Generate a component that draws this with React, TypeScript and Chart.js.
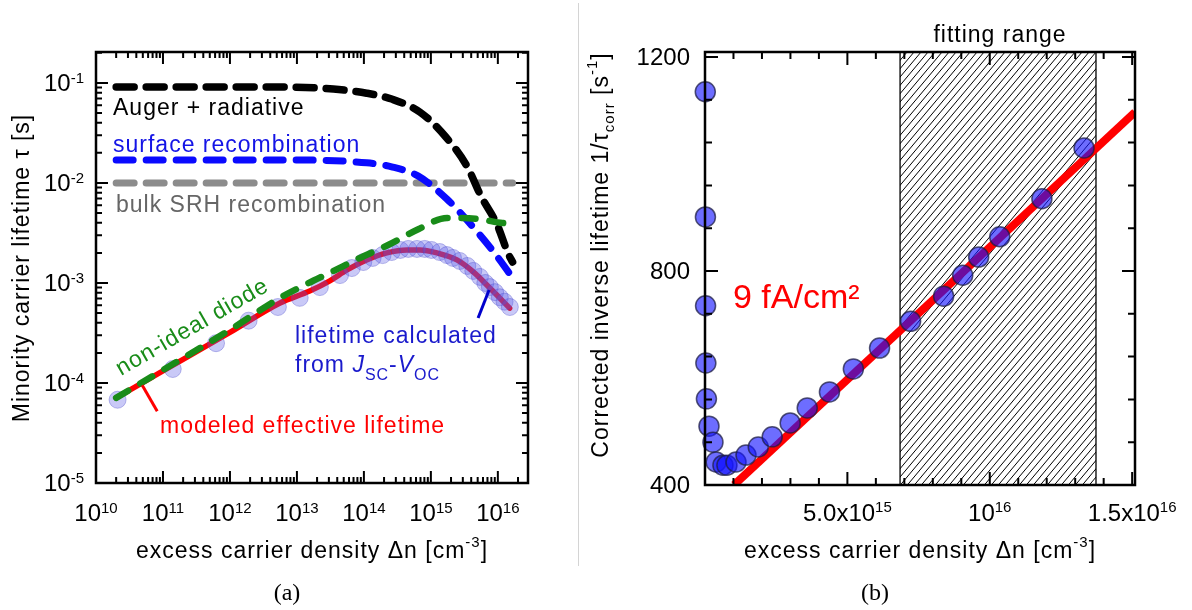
import React, { useEffect, useRef } from "react";
import { Chart, registerables } from "chart.js";

Chart.register(...registerables);

const FONT = "'Liberation Sans', Arial, Helvetica, sans-serif";
const SERIF = "'Liberation Serif', 'Times New Roman', serif";

// ---------- Panel (a): lifetime vs excess carrier density (log-log) ----------
const augerX = [2.0e10, 5.6e12, 3.5e13, 1.1e14, 2.6e14, 6.9e14, 1.66e15, 3.5e15, 5.6e15, 9.8e15, 1.41e16, 1.66e16];
const augerY = [0.091, 0.091, 0.087, 0.079, 0.069, 0.051, 0.029, 0.0145, 0.0074, 0.0038, 0.002, 0.00162];

const surfX = [2.0e10, 5.6e12, 1.1e14, 2.6e14, 6.5e14, 1.74e15, 4.3e15, 8.7e15, 1.51e16];
const surfY = [0.017, 0.017, 0.0159, 0.0145, 0.0117, 0.0069, 0.0036, 0.00204, 0.00123];

const srhX = [2.0e10, 1.66e16];
const srhY = [0.01, 0.01];

const diodeX = [2.0e10, 1e11, 1e12, 5.6e12, 1.41e13, 3.3e13, 8.1e13, 2.3e14, 6.6e14, 1.74e15, 4.9e15, 1.17e16, 1.66e16];
const diodeY = [7.1e-5, 1.35e-4, 3.4e-4, 7.1e-4, 9.8e-4, 1.29e-3, 1.74e-3, 2.4e-3, 3.47e-3, 4.47e-3, 4.37e-3, 3.98e-3, 3.9e-3];

const modelX = [2.0e10, 1e11, 1e12, 5.6e12, 1.55e13, 3.1e13, 5.6e13, 1.1e14, 2.2e14, 4.4e14, 6.9e14, 1.23e15, 2.45e15, 4.3e15, 7.6e15, 1.5e16];
const modelY = [7.1e-5, 1.32e-4, 3.2e-4, 6.3e-4, 8.3e-4, 1.05e-3, 1.35e-3, 1.7e-3, 2.0e-3, 2.14e-3, 2.14e-3, 2.0e-3, 1.7e-3, 1.29e-3, 8.9e-4, 5.6e-4];

const measX = [2.1e10, 1.4e11, 6.2e11, 1.9e12, 5.2e12, 1.1e13, 2.2e13, 4.4e13, 6.6e13, 9.8e13, 1.35e14, 1.9e14, 2.6e14, 3.5e14, 4.6e14, 6.2e14, 8.1e14, 1.02e15, 1.35e15, 1.74e15, 2.14e15, 2.7e15, 3.5e15, 4.3e15, 5.4e15, 6.5e15, 7.6e15, 9.1e15, 1.07e16, 1.26e16, 1.51e16];
const measY = [6.8e-5, 1.38e-4, 2.5e-4, 4.2e-4, 5.75e-4, 7.1e-4, 9.1e-4, 1.2e-3, 1.41e-3, 1.62e-3, 1.78e-3, 1.9e-3, 2.04e-3, 2.14e-3, 2.19e-3, 2.19e-3, 2.19e-3, 2.14e-3, 2.04e-3, 1.9e-3, 1.78e-3, 1.66e-3, 1.48e-3, 1.32e-3, 1.15e-3, 1.0e-3, 9.1e-4, 8.1e-4, 7.2e-4, 6.5e-4, 5.75e-4];

const leftXExps = [10, 11, 12, 13, 14, 15, 16];
const leftYExps = [-5, -4, -3, -2, -1];
const logMults = [1, 2, 3, 4, 5, 6, 7, 8, 9];

// ---------- Panel (b): corrected inverse lifetime vs excess carrier density ----------
const corrX = [0.01e15, 0.015e15, 0.02e15, 0.03e15, 0.05e15, 0.14e15, 0.28e15, 0.39e15, 0.63e15, 0.77e15, 1.09e15, 1.44e15, 1.87e15, 2.36e15, 2.99e15, 3.59e15, 4.37e15, 5.21e15, 6.13e15, 7.22e15, 8.38e15, 9.05e15, 9.61e15, 10.35e15, 11.83e15, 13.31e15];
const corrY = [1135, 901, 735, 628, 561, 510, 480, 443, 437, 437, 443, 456, 471, 490, 516, 544, 574, 617, 656, 706, 753, 792, 826, 864, 935, 1030];

const fitX = [1.02e15, 1.51e16];
const fitY = [400, 1097];
const fitRange = [6.85e15, 1.373e16];

const rightYTicks = [400, 800, 1200];
const rightYMinor = [480, 560, 640, 720, 880, 960, 1040, 1120];
const rightXTicks = [5e15, 1e16, 1.5e16];
const rightXTickLabels = [["5.0x10", "15"], ["10", "16"], ["1.5x10", "16"]];
const rightXMinor = [1e15, 2e15, 3e15, 4e15, 6e15, 7e15, 8e15, 9e15, 1.1e16, 1.2e16, 1.3e16, 1.4e16];

type Seg = { t: string; size: number; dy?: number; italic?: boolean; family?: string };

function drawRich(
  ctx: CanvasRenderingContext2D,
  segs: Seg[],
  x: number,
  y: number,
  align: "left" | "center" | "right",
  color: string,
  angle = 0,
  ls = 0
) {
  ctx.save();
  ctx.translate(x, y);
  if (angle) ctx.rotate(angle);
  (ctx as any).letterSpacing = ls + "px";
  ctx.textAlign = "left";
  ctx.textBaseline = "alphabetic";
  ctx.fillStyle = color;
  const fontOf = (s: Seg) => `${s.italic ? "italic " : ""}${s.size}px ${s.family || FONT}`;
  const widths = segs.map((s) => {
    ctx.font = fontOf(s);
    return ctx.measureText(s.t).width;
  });
  const total = widths.reduce((p, c) => p + c, 0);
  let cx = align === "left" ? 0 : align === "center" ? -total / 2 : -total;
  segs.forEach((s, i) => {
    ctx.font = fontOf(s);
    ctx.fillText(s.t, cx, s.dy || 0);
    cx += widths[i];
  });
  ctx.restore();
}

const pts = (xs: number[], ys: number[]) => xs.map((x, i) => ({ x, y: ys[i] }));

const leftDeco = {
  id: "leftDeco",
  afterDraw(chart: any) {
    const { ctx, chartArea: a, scales } = chart;
    const xs = scales.x;
    const ys = scales.y;
    ctx.save();
    ctx.strokeStyle = "#000";
    ctx.lineWidth = 2;
    ctx.beginPath();
    for (const e of leftXExps)
      for (const m of logMults) {
        const v = m * Math.pow(10, e);
        if (v > xs.max * 1.0001) continue;
        const p = xs.getPixelForValue(v);
        const L = m === 1 ? 12 : 6;
        ctx.moveTo(p, a.bottom);
        ctx.lineTo(p, a.bottom - L);
        ctx.moveTo(p, a.top);
        ctx.lineTo(p, a.top + L);
      }
    for (const e of leftYExps)
      for (const m of logMults) {
        const v = m * Math.pow(10, e);
        if (v > ys.max * 1.0001) continue;
        const p = ys.getPixelForValue(v);
        const L = m === 1 ? 12 : 6;
        ctx.moveTo(a.left, p);
        ctx.lineTo(a.left + L, p);
        ctx.moveTo(a.right, p);
        ctx.lineTo(a.right - L, p);
      }
    ctx.stroke();
    ctx.lineWidth = 2.5;
    ctx.strokeRect(a.left, a.top, a.right - a.left, a.bottom - a.top);

    // tick labels
    for (const e of leftXExps) {
      const p = xs.getPixelForValue(Math.pow(10, e));
      drawRich(ctx, [{ t: "10", size: 24 }, { t: String(e), size: 15, dy: -8 }], p, a.bottom + 38, "center", "#000");
    }
    for (const e of leftYExps) {
      const p = ys.getPixelForValue(Math.pow(10, e));
      drawRich(ctx, [{ t: "10", size: 24 }, { t: String(e), size: 15, dy: -8 }], a.left - 12, p + 8, "right", "#000");
    }

    // axis titles
    drawRich(ctx, [{ t: "Minority carrier lifetime τ [s]", size: 23 }], 29, 268, "center", "#000", -Math.PI / 2, 1);
    drawRich(
      ctx,
      [{ t: "excess carrier density Δn [cm", size: 23 }, { t: "-3", size: 15, dy: -11 }, { t: "]", size: 23 }],
      312,
      558,
      "center",
      "#000",
      0,
      1
    );

    // annotations
    drawRich(ctx, [{ t: "Auger + radiative", size: 23 }], 113, 115, "left", "#000", 0, 1);
    drawRich(ctx, [{ t: "surface recombination", size: 23 }], 113, 152, "left", "#1414e6", 0, 1);
    drawRich(ctx, [{ t: "bulk SRH recombination", size: 23 }], 116, 212, "left", "#666666", 0, 1);
    drawRich(ctx, [{ t: "non-ideal diode", size: 23 }], 121, 376, "left", "#198c19", -Math.PI / 6, 1);
    drawRich(ctx, [{ t: "modeled effective lifetime", size: 23 }], 160, 433, "left", "#ff0000", 0, 1);
    drawRich(ctx, [{ t: "lifetime calculated", size: 23 }], 295, 343, "left", "#1a1acc", 0, 1);
    drawRich(
      ctx,
      [
        { t: "from ", size: 23 },
        { t: "J", size: 23, italic: true },
        { t: "SC", size: 16, dy: 8 },
        { t: "-", size: 23 },
        { t: "V", size: 23, italic: true },
        { t: "OC", size: 16, dy: 8 },
      ],
      295,
      372,
      "left",
      "#1a1acc",
      0,
      1
    );

    // leader lines
    ctx.lineWidth = 3;
    ctx.strokeStyle = "#ff0000";
    const rx = xs.getPixelForValue(4.9e10);
    const ry = ys.getPixelForValue(9.5e-5);
    ctx.beginPath();
    ctx.moveTo(rx, ry);
    ctx.lineTo(rx + 15, ry + 26);
    ctx.stroke();
    ctx.strokeStyle = "#0000cc";
    const bx = xs.getPixelForValue(7.4e15);
    const by = ys.getPixelForValue(8.5e-4);
    ctx.beginPath();
    ctx.moveTo(bx, by);
    ctx.lineTo(bx - 11, by + 28);
    ctx.stroke();

    // panel label
    drawRich(ctx, [{ t: "(a)", size: 24, family: SERIF }], 287, 600, "center", "#000");
    ctx.restore();
  },
};

const rightHatch = {
  id: "rightHatch",
  beforeDatasetsDraw(chart: any) {
    const { ctx, chartArea: a, scales } = chart;
    const x1 = scales.x.getPixelForValue(fitRange[0]);
    const x2 = scales.x.getPixelForValue(fitRange[1]);
    const h = a.bottom - a.top;
    ctx.save();
    ctx.beginPath();
    ctx.rect(x1, a.top, x2 - x1, h);
    ctx.clip();
    ctx.strokeStyle = "#000";
    ctx.lineWidth = 1;
    const slant = h * 0.84;
    ctx.beginPath();
    for (let sx = x1 - slant; sx < x2 + 2; sx += 7) {
      ctx.moveTo(sx, a.bottom);
      ctx.lineTo(sx + slant, a.top);
    }
    ctx.stroke();
    ctx.restore();
    ctx.save();
    ctx.strokeStyle = "#000";
    ctx.lineWidth = 1.3;
    ctx.strokeRect(x1, a.top, x2 - x1, h);
    ctx.restore();
  },
  afterDraw(chart: any) {
    const { ctx, chartArea: a, scales } = chart;
    const xs = scales.x;
    const ys = scales.y;
    ctx.save();
    ctx.strokeStyle = "#000";
    ctx.lineWidth = 2;
    ctx.beginPath();
    const vTick = (p: number, L: number) => {
      ctx.moveTo(p, a.bottom);
      ctx.lineTo(p, a.bottom - L);
      ctx.moveTo(p, a.top);
      ctx.lineTo(p, a.top + L);
    };
    const hTick = (p: number, L: number) => {
      ctx.moveTo(a.left, p);
      ctx.lineTo(a.left + L, p);
      ctx.moveTo(a.right, p);
      ctx.lineTo(a.right - L, p);
    };
    rightXTicks.forEach((v) => vTick(xs.getPixelForValue(v), 13));
    rightXMinor.forEach((v) => vTick(xs.getPixelForValue(v), 7));
    rightYTicks.forEach((v) => hTick(ys.getPixelForValue(v), 13));
    rightYMinor.forEach((v) => hTick(ys.getPixelForValue(v), 7));
    ctx.stroke();
    ctx.lineWidth = 2.5;
    ctx.strokeRect(a.left, a.top, a.right - a.left, a.bottom - a.top);

    rightYTicks.forEach((v) => {
      const p = ys.getPixelForValue(v);
      drawRich(ctx, [{ t: String(v), size: 24 }], a.left - 15, p + 8, "right", "#000");
    });
    rightXTicks.forEach((v, i) => {
      const p = xs.getPixelForValue(v);
      const [b, s] = rightXTickLabels[i];
      drawRich(ctx, [{ t: b, size: 24 }, { t: s, size: 15, dy: -9 }], p, a.bottom + 36, "center", "#000");
    });

    drawRich(
      ctx,
      [
        { t: "Corrected inverse lifetime 1/τ", size: 23 },
        { t: "corr", size: 15, dy: 6 },
        { t: " [s", size: 23 },
        { t: "-1", size: 15, dy: -11 },
        { t: "]", size: 23 },
      ],
      28,
      255,
      "center",
      "#000",
      -Math.PI / 2,
      1
    );
    drawRich(
      ctx,
      [{ t: "excess carrier density Δn [cm", size: 23 }, { t: "-3", size: 15, dy: -11 }, { t: "]", size: 23 }],
      340,
      558,
      "center",
      "#000",
      0,
      1
    );
    drawRich(ctx, [{ t: "fitting range", size: 23 }], 420, 42, "center", "#000", 0, 1);
    drawRich(ctx, [{ t: "9 fA/cm²", size: 34 }], 153, 308, "left", "#ff0000");
    drawRich(ctx, [{ t: "(b)", size: 24, family: SERIF }], 295, 600, "center", "#000");
    ctx.restore();
  },
};

export default function App() {
  const refA = useRef<HTMLCanvasElement>(null);
  const refB = useRef<HTMLCanvasElement>(null);

  useEffect(() => {
    const dash = (color: string, width: number, data: any, d: number[]) => ({
      data,
      borderColor: color,
      borderWidth: width,
      borderDash: d,
      borderCapStyle: "round" as const,
      pointRadius: 0,
      tension: 0.4,
      cubicInterpolationMode: "monotone" as const,
      fill: false,
    });
    const chartA = new Chart(refA.current!, {
      type: "line",
      data: {
        datasets: [
          dash("#198c19", 6.5, pts(diodeX, diodeY), [14, 14]),
          dash("#000000", 7.5, pts(augerX, augerY), [18, 12]),
          dash("#0a0aff", 7, pts(surfX, surfY), [17, 13]),
          {
            data: pts(measX, measY),
            showLine: false,
            pointRadius: 8.5,
            pointBackgroundColor: "rgba(90,90,230,0.33)",
            pointBorderColor: "rgba(70,70,200,0.35)",
            pointBorderWidth: 1,
            clip: false,
          },
          {
            data: pts(modelX, modelY),
            borderColor: "#ff0000",
            borderWidth: 5.5,
            pointRadius: 0,
            tension: 0.4,
            cubicInterpolationMode: "monotone",
            borderCapStyle: "round",
            fill: false,
          },
          dash("#8c8c8c", 7, pts(srhX, srhY), [18, 12]),
        ] as any,
      },
      options: {
        responsive: false,
        maintainAspectRatio: false,
        animation: false,
        layout: { padding: { left: 96, top: 52, right: 52, bottom: 127 } },
        plugins: { legend: { display: false }, tooltip: { enabled: false } },
        scales: {
          x: { type: "logarithmic", min: 1e10, max: 2.82e16, display: false },
          y: { type: "logarithmic", min: 1e-5, max: 0.204, display: false },
        },
      },
      plugins: [leftDeco],
    });

    const chartB = new Chart(refB.current!, {
      type: "line",
      data: {
        datasets: [
          {
            data: pts(corrX, corrY),
            showLine: false,
            pointRadius: 10,
            pointBackgroundColor: "rgba(20,20,255,0.62)",
            pointBorderColor: "rgba(30,30,70,0.75)",
            pointBorderWidth: 1.5,
            clip: false,
          },
          {
            data: pts(fitX, fitY),
            borderColor: "#ff0000",
            borderWidth: 8,
            pointRadius: 0,
            borderCapStyle: "butt",
            fill: false,
          },
        ] as any,
      },
      options: {
        responsive: false,
        maintainAspectRatio: false,
        animation: false,
        layout: { padding: { left: 125, top: 52, right: 57, bottom: 125 } },
        plugins: { legend: { display: false }, tooltip: { enabled: false } },
        scales: {
          x: { type: "linear", min: 0, max: 1.51e16, display: false },
          y: { type: "linear", min: 400, max: 1209.3, display: false },
        },
      },
      plugins: [rightHatch],
    });

    return () => {
      chartA.destroy();
      chartB.destroy();
    };
  }, []);

  return (
    <div style={{ position: "absolute", left: 0, top: 0, width: 1192, height: 610, background: "#fff", overflow: "hidden" }}>
      <canvas ref={refA} width={580} height={610} style={{ position: "absolute", left: 0, top: 0, width: 580, height: 610 }} />
      <div style={{ position: "absolute", left: 578, top: 3, width: 1, height: 563, background: "#d4d4d4" }} />
      <canvas ref={refB} width={612} height={610} style={{ position: "absolute", left: 580, top: 0, width: 612, height: 610 }} />
    </div>
  );
}
